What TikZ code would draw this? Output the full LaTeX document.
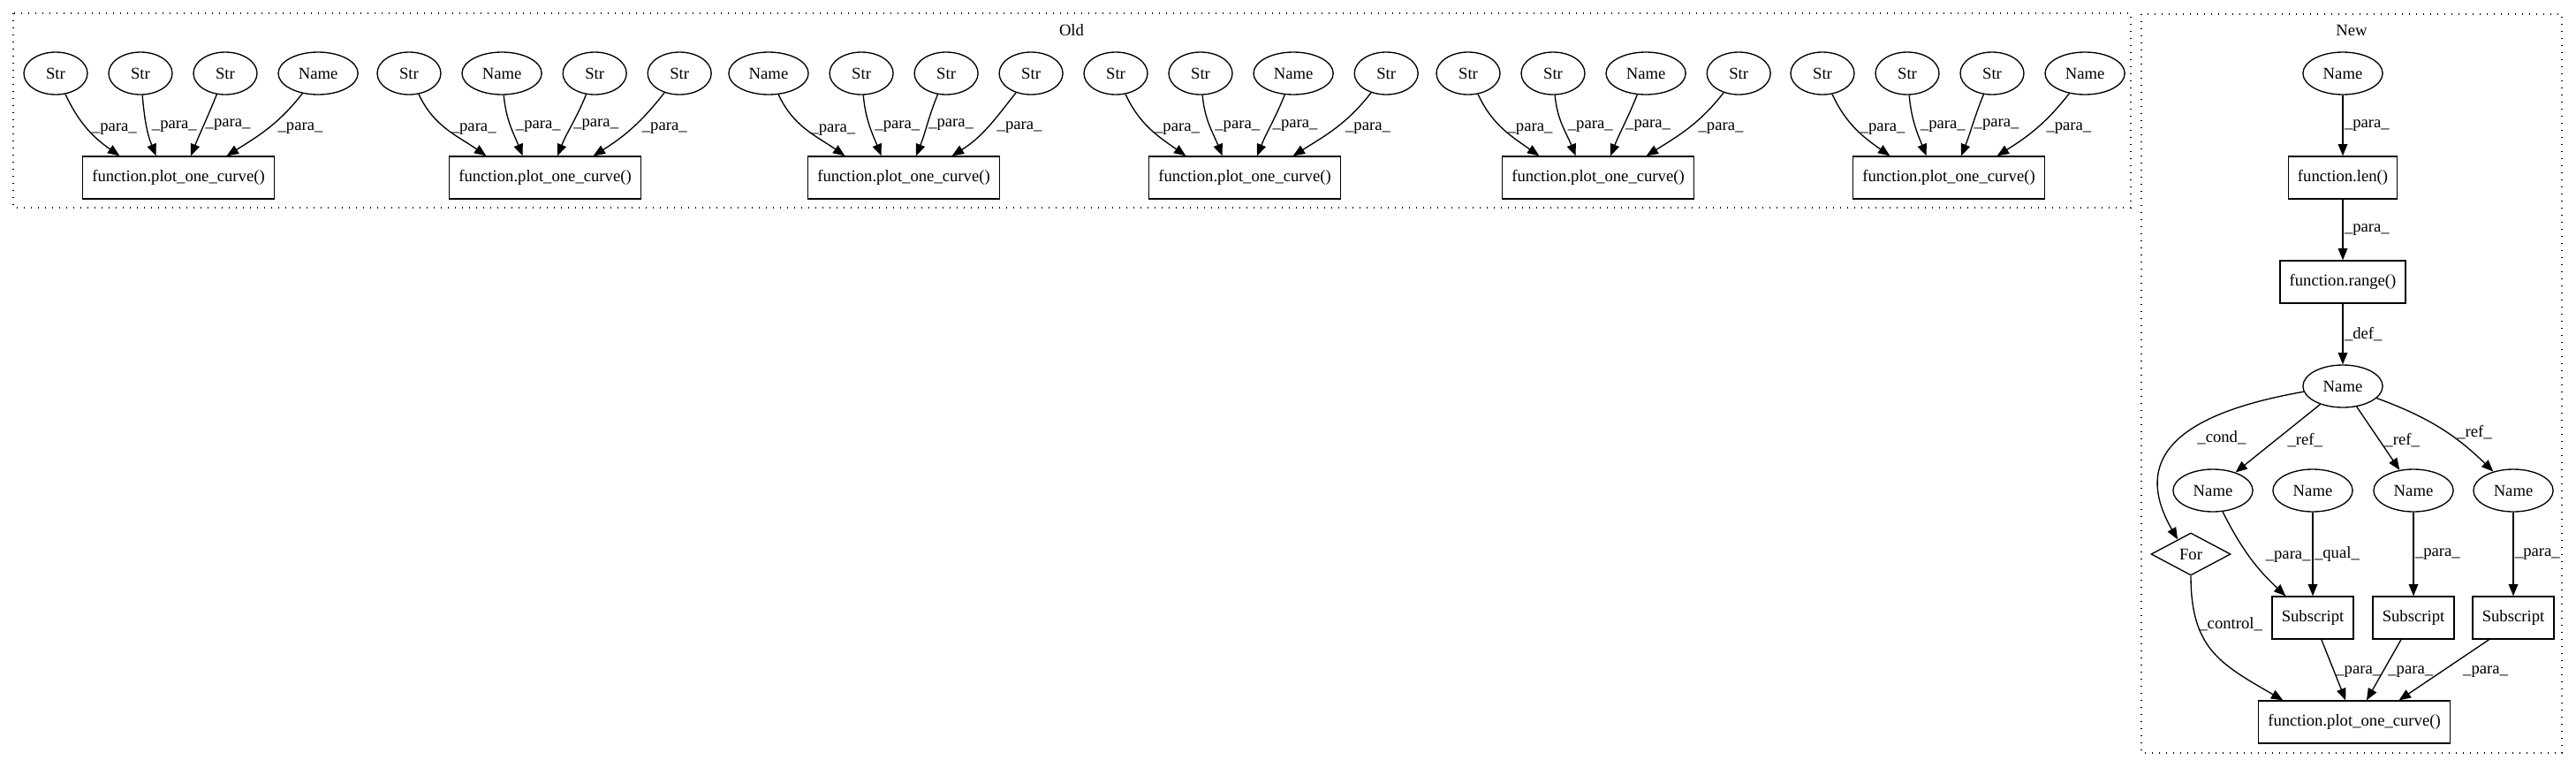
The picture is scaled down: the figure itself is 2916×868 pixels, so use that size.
\documentclass[tikz,border=0pt]{standalone}
\usepackage{fontspec}
\setmainfont{Liberation Serif}
\usetikzlibrary{shapes.geometric, arrows.meta, positioning}

\newcommand{\gvfont}{\fontsize{14pt}{16pt}\selectfont}

\tikzset{
	ast/.style={ellipse, draw, line width=1pt, inner xsep=7.2pt, inner ysep=0pt, minimum width=54pt, minimum height=36pt, font=\gvfont},
	call/.style={rectangle, draw, line width=1pt, inner xsep=8pt, inner ysep=0pt, minimum width=54pt, minimum height=36pt, font=\gvfont},
	loopnode/.style={diamond, draw, line width=1pt, inner sep=0pt, aspect=1.875, minimum width=67.5pt, minimum height=36pt, font=\gvfont},
	lbl/.style={font=\gvfont, inner sep=1pt},
	dep/.style={line width=1pt, -{Triangle[length=10pt,width=8pt]}},
	cluster/.style={line width=1pt, dash pattern=on 1pt off 5pt}
}

\newcommand{\plotgroup}[7] {
	\node[call] (f#1) at (#2,201) {function.plot\_one\_curve()};
	\node[ast] (g#1a) at (#3,83) {#4};
	\node[ast, right=17pt of g#1a] (g#1b) {#5};
	\node[ast, right=17pt of g#1b] (g#1c) {#6};
	\node[ast, right=17pt of g#1c] (g#1d) {#7};
	\foreach \src/\dx/\aout/\ain/\lsh in {a/-50/-65/145/2, b/-19/-85/112/3, c/10.5/-112/68/0, d/41/-128/32/7}
		\draw[dep] (g#1\src) to[out=\aout, in=\ain] node[lbl, pos=0.5, right, xshift=\lsh pt] {\_para\_} ([xshift=\dx pt]f#1.north);
}

\begin{document}
\begin{tikzpicture}[x=0.75pt, y=-0.75pt]
	\useasboundingbox (0,0) rectangle (2916,868);

	\draw[cluster] (15,15) rectangle (2412,235);
	\node[lbl] (oldtitle) at (1213,34) {Old};
	\plotgroup{1}{202}{63}{Str}{Str}{Str}{Name}
	\plotgroup{2}{617}{463}{Str}{Name}{Str}{Str}
	\plotgroup{3}{1023}{870}{Name}{Str}{Str}{Str}
	\plotgroup{4}{1409}{1263}{Str}{Str}{Name}{Str}
	\plotgroup{5}{1809}{1662}{Str}{Str}{Name}{Str}
	\plotgroup{6}{2206}{2063}{Str}{Str}{Str}{Name}

	\draw[cluster] (2424,16) rectangle (2900,852);
	\node[lbl] (newtitle) at (2662,34) {New};
	\node[ast] (lenarg) at (2652,83) {Name};
	\node[call] (lenfn) at (2652,201) {function.len()};
	\node[call] (rangefn) at (2652,319) {function.range()};
	\node[ast] (loopvar) at (2652,437) {Name};
	\node[ast] (ref1) at (2505,555) {Name};
	\node[ast] (qual) at (2618,555) {Name};
	\node[ast] (ref2) at (2732,555) {Name};
	\node[ast] (ref3) at (2845,555) {Name};
	\node[loopnode] (forloop) at (2480,627) {For};
	\node[call] (sub1) at (2618,699) {Subscript};
	\node[call] (sub2) at (2732,699) {Subscript};
	\node[call] (sub3) at (2845,699) {Subscript};
	\node[call] (plotnew) at (2665,817) {function.plot\_one\_curve()};

	\draw[dep] (lenarg) -- node[lbl, right] {\_para\_} (lenfn);
	\draw[dep] (lenfn) -- node[lbl, right] {\_para\_} (rangefn);
	\draw[dep] (rangefn) -- node[lbl, right] {\_def\_} (loopvar);
	\draw[dep] (loopvar.188) to[out=190, in=120, looseness=1.4] node[lbl, pos=0.5, right, xshift=12pt] {\_cond\_} (forloop.132);
	\draw[dep] (loopvar) -- node[lbl, pos=0.53, right, xshift=9pt] {\_ref\_} (ref1);
	\draw[dep] (loopvar) -- node[lbl, pos=0.53, right, xshift=3pt] {\_ref\_} (ref2);
	\draw[dep] (loopvar) to[bend left=12] node[lbl, pos=0.56, right, xshift=8pt] {\_ref\_} (ref3);
	\draw[dep] (ref1) to[bend right=10] node[lbl, pos=0.5, right, xshift=12pt] {\_para\_} ([xshift=-23pt]sub1.north);
	\draw[dep] (qual) -- node[lbl, right] {\_qual\_} (sub1);
	\draw[dep] (ref2) -- node[lbl, right] {\_para\_} (sub2);
	\draw[dep] (ref3) -- node[lbl, right] {\_para\_} (sub3);
	\draw[dep] (forloop.south) to[out=-90, in=150, looseness=1.2] node[lbl, pos=0.27, right] {\_control\_} (plotnew.163);
	\draw[dep] (sub1) -- node[lbl, pos=0.53, right] {\_para\_} (plotnew);
	\draw[dep] (sub2) -- node[lbl, pos=0.53, right, xshift=3pt] {\_para\_} (plotnew);
	\draw[dep] (sub3.-138) -- node[lbl, pos=0.53, right, xshift=17pt] {\_para\_} (plotnew.26);
\end{tikzpicture}
\end{document}
